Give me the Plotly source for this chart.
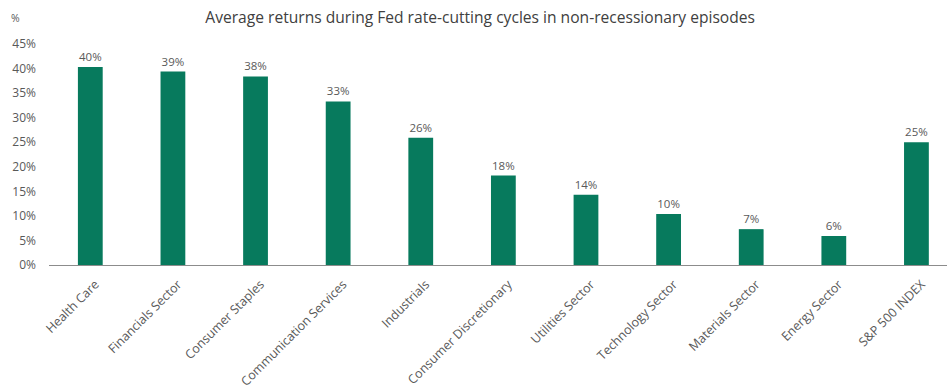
import plotly.graph_objects as go

# Sector returns averaged over Fed rate-cutting cycles outside recessions
categories = [
    "Health Care", "Financials Sector", "Consumer Staples", "Communication Services",
    "Industrials", "Consumer Discretionary", "Utilities Sector", "Technology Sector",
    "Materials Sector", "Energy Sector", "S&P 500 INDEX",
]
avg_returns = [40.3, 39.4, 38.4, 33.3, 25.9, 18.2, 14.3, 10.4, 7.3, 5.9, 25.0]
y_ticks = [0, 5, 10, 15, 20, 25, 30, 35, 40, 45]
y_tick_labels = [f"{v}%" for v in y_ticks]

BAR_COLOR = "#077a5d"
TEXT_GRAY = "#595959"
FONT = "Open Sans, Segoe UI, sans-serif"

fig = go.Figure(
    go.Bar(
        x=categories,
        y=avg_returns,
        marker=dict(color=BAR_COLOR, line=dict(width=0)),
        width=0.30,
        text=[f"{v:.0f}%" for v in avg_returns],
        textposition="outside",
        textfont=dict(size=11.5, color=TEXT_GRAY, family=FONT),
        cliponaxis=False,
    )
)

fig.update_layout(
    width=947,
    height=390,
    margin=dict(l=49, r=0, t=44, b=125),
    paper_bgcolor="white",
    plot_bgcolor="white",
    showlegend=False,
    font=dict(family=FONT, color=TEXT_GRAY),
    title=dict(
        text="Average returns during Fed rate-cutting cycles in non-recessionary episodes",
        x=0.507, xanchor="center", y=0.955, yanchor="middle",
        font=dict(size=15.6, color="#404040", family=FONT),
    ),
    xaxis=dict(
        type="category",
        range=[-0.5, 10.37],
        tickangle=-45,
        tickfont=dict(size=12.5, color=TEXT_GRAY),
        ticklabelstandoff=6,
        ticklabelshift=5,
        showgrid=False,
        showline=True,
        linecolor="#8c8c8c",
        linewidth=1.2,
        ticks="",
        zeroline=False,
    ),
    yaxis=dict(
        range=[0, 45],
        tickvals=y_ticks,
        ticktext=y_tick_labels,
        tickfont=dict(size=12, color=TEXT_GRAY),
        showgrid=False,
        showline=False,
        zeroline=False,
        ticks="",
        ticklabelstandoff=12,
    ),
    annotations=[
        dict(
            text="%", xref="paper", yref="paper",
            x=-34 / 898, y=1 + 26 / 221, xanchor="center", yanchor="middle",
            showarrow=False, font=dict(size=10.5, color=TEXT_GRAY),
        )
    ],
)

fig.write_html("out.html")
